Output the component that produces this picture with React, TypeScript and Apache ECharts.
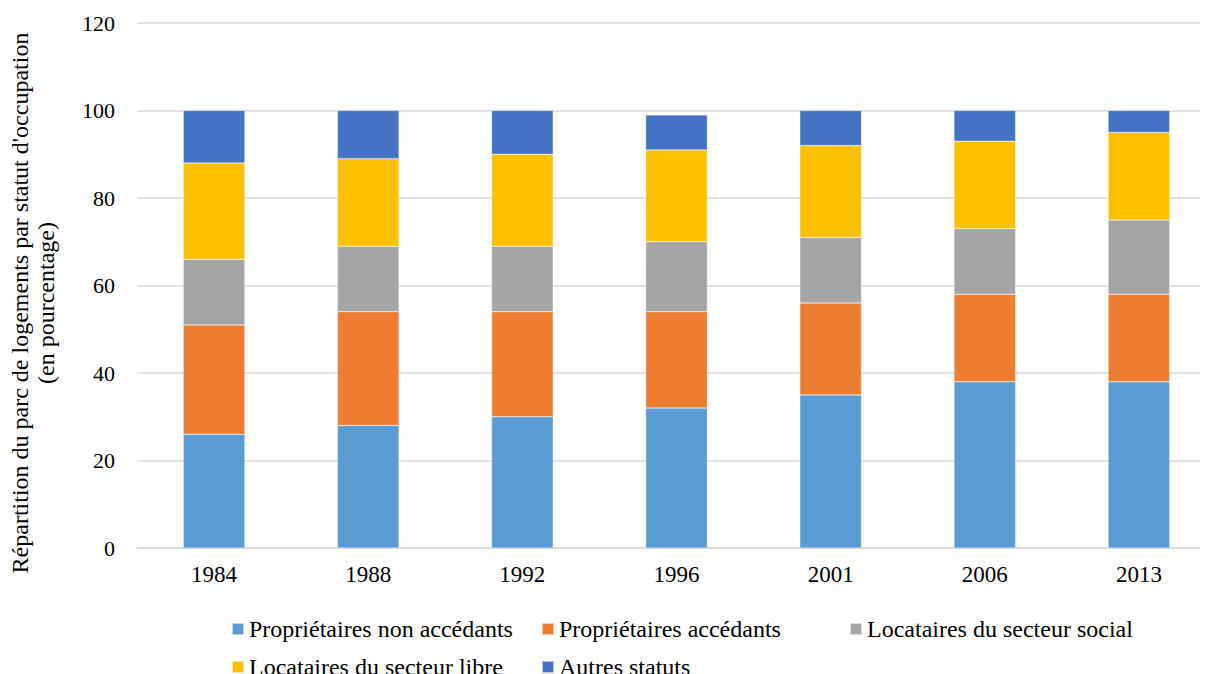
import React, { useEffect, useRef } from "react";
import * as echarts from "echarts";

const categories = ["1984", "1988", "1992", "1996", "2001", "2006", "2013"];
const seriesNames = [
  "Propriétaires non accédants",
  "Propriétaires accédants",
  "Locataires du secteur social",
  "Locataires du secteur libre",
  "Autres statuts",
];
const proprietairesNonAccedants = [26, 28, 30, 32, 35, 38, 38];
const proprietairesAccedants = [25, 26, 24, 22, 21, 20, 20];
const locatairesSocial = [15, 15, 15, 16, 15, 15, 17];
const locatairesLibre = [22, 20, 21, 21, 21, 20, 20];
const autresStatuts = [12, 11, 10, 8, 8, 7, 5];
const colors = ["#5B9BD5", "#ED7D31", "#A5A5A5", "#FFC000", "#4472C4"];
const yTicks = [0, 20, 40, 60, 80, 100, 120];

const FONT = "'Liberation Serif', 'Times New Roman', serif";

export default function App() {
  const ref = useRef<HTMLDivElement>(null);
  useEffect(() => {
    if (!ref.current) return;
    const chart = echarts.init(ref.current, undefined, { renderer: "svg" });
    const data = [
      proprietairesNonAccedants,
      proprietairesAccedants,
      locatairesSocial,
      locatairesLibre,
      autresStatuts,
    ];
    const legendPos = [
      { left: 231, top: 617 },
      { left: 541, top: 617 },
      { left: 849, top: 617 },
      { left: 231, top: 655 },
      { left: 541, top: 655 },
    ];
    chart.setOption({
      animation: false,
      backgroundColor: "#ffffff",
      textStyle: { fontFamily: FONT },
      grid: [
        { left: 137, right: 16, top: 23, bottom: 126, containLabel: false },
        { left: 137, right: -11, top: 23, bottom: 126, containLabel: false },
      ],
      legend: seriesNames.map((n, i) => ({
        data: [n],
        left: legendPos[i].left,
        top: legendPos[i].top,
        padding: 0,
        itemWidth: 12,
        itemHeight: 12,
        itemGap: 0,
        icon: "rect",
        textStyle: { fontFamily: FONT, fontSize: 24, color: "#000" },
      })),
      xAxis: [
        {
          gridIndex: 0,
          type: "category",
          data: categories,
          axisLine: { show: true, lineStyle: { color: "#d9d9d9", width: 1.5 } },
          axisTick: { show: false },
          axisLabel: { show: false },
        },
        {
          gridIndex: 1,
          type: "category",
          data: categories,
          axisLine: { show: false },
          axisTick: { show: false },
          axisLabel: { fontFamily: FONT, fontSize: 23, color: "#000", margin: 15 },
        },
      ],
      yAxis: [
        {
          gridIndex: 0,
          type: "value",
          min: yTicks[0],
          max: yTicks[yTicks.length - 1],
          interval: 20,
          axisLine: { show: false },
          axisTick: { show: false },
          axisLabel: { fontFamily: FONT, fontSize: 22, color: "#000", margin: 22 },
          splitLine: { lineStyle: { color: "#d9d9d9", width: 1.5 } },
        },
        {
          gridIndex: 1,
          type: "value",
          min: yTicks[0],
          max: yTicks[yTicks.length - 1],
          interval: 20,
          show: false,
          splitLine: { show: false },
        },
      ],
      graphic: [
        {
          type: "text",
          x: 32.5,
          y: 303,
          rotation: Math.PI / 2,
          style: {
            text: "Répartition du parc de logements par statut d'occupation\n(en pourcentage)",
            font: `24px ${FONT}`,
            fill: "#000",
            align: "center",
            verticalAlign: "middle",
            lineHeight: 26,
          },
        },
      ],
      series: seriesNames.map((n, i) => ({
        name: n,
        type: "bar",
        stack: "total",
        xAxisIndex: 1,
        yAxisIndex: 1,
        data: data[i],
        barWidth: "40%",
        itemStyle: { color: colors[i], borderColor: "rgba(255,255,255,0.6)", borderWidth: 0.5 },
      })),
    });
    return () => chart.dispose();
  }, []);
  return (
    <div
      ref={ref}
      style={{ position: "fixed", left: 0, top: 0, width: 1216, height: 674 }}
    />
  );
}
